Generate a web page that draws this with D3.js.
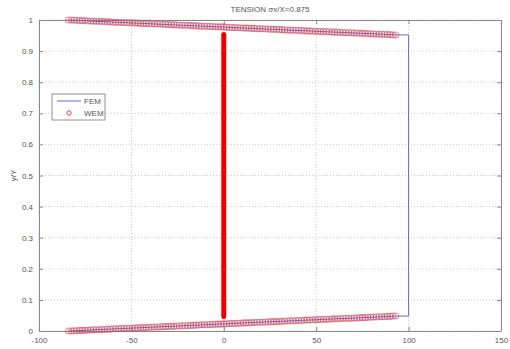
<!DOCTYPE html>
<html>
<head>
<meta charset="utf-8">
<script src="https://cdn.jsdelivr.net/npm/d3@7"></script>
<style>
  body { margin: 0; background: #fff; }
  text { font-family: "Liberation Sans", Arial, sans-serif; fill: #555; }
</style>
</head>
<body>
<div id="chart"></div>
<script>
// x ticks and y ticks
var xTicks = [-100, -50, 0, 50, 100, 150];
var yTicks = [0, 0.1, 0.2, 0.3, 0.4, 0.5, 0.6, 0.7, 0.8, 0.9, 1];

// FEM outline (blue line)
var femX = [-84, 0, 94, 100, 100, 94, 0, -84];
var femY = [1, 0.977, 0.952, 0.952, 0.048, 0.048, 0.023, 0];

// WEM markers (red circles), upper and lower faces
var wemX = [-84, -82.5, -81, -79.5, -78, -76.5, -75, -73.5, -72, -70.5,
            -69, -67.5, -66, -64.5, -63, -61.5, -60, -58.5, -57, -55.5,
            -54, -52.5, -51, -49.5, -48, -46.5, -45, -43.5, -42, -40.5,
            -39, -37.5, -36, -34.5, -33, -31.5, -30, -28.5, -27, -25.5,
            -24, -22.5, -21, -19.5, -18, -16.5, -15, -13.5, -12, -10.5,
            -9, -7.5, -6, -4.5, -3, -1.5, 0, 1.5, 3, 4.5,
            6, 7.5, 9, 10.5, 12, 13.5, 15, 16.5, 18, 19.5,
            21, 22.5, 24, 25.5, 27, 28.5, 30, 31.5, 33, 34.5,
            36, 37.5, 39, 40.5, 42, 43.5, 45, 46.5, 48, 49.5,
            51, 52.5, 54, 55.5, 57, 58.5, 60, 61.5, 63, 64.5,
            66, 67.5, 69, 70.5, 72, 73.5, 75, 76.5, 78, 79.5,
            81, 82.5, 84, 85.5, 87, 88.5, 90, 91.5, 93];
var wemTop = [1.000, 1.000, 0.999, 0.999, 0.998, 0.998, 0.998, 0.997, 0.997, 0.996,
              0.996, 0.996, 0.995, 0.995, 0.994, 0.994, 0.993, 0.993, 0.993, 0.992,
              0.992, 0.991, 0.991, 0.991, 0.990, 0.990, 0.989, 0.989, 0.989, 0.988,
              0.988, 0.987, 0.987, 0.987, 0.986, 0.986, 0.985, 0.985, 0.985, 0.984,
              0.984, 0.983, 0.983, 0.983, 0.982, 0.982, 0.981, 0.981, 0.980, 0.980,
              0.980, 0.979, 0.979, 0.978, 0.978, 0.978, 0.977, 0.977, 0.976, 0.976,
              0.976, 0.975, 0.975, 0.974, 0.974, 0.974, 0.973, 0.973, 0.972, 0.972,
              0.972, 0.971, 0.971, 0.970, 0.970, 0.970, 0.969, 0.969, 0.968, 0.968,
              0.967, 0.967, 0.967, 0.966, 0.966, 0.965, 0.965, 0.965, 0.964, 0.964,
              0.963, 0.963, 0.963, 0.962, 0.962, 0.961, 0.961, 0.961, 0.960, 0.960,
              0.959, 0.959, 0.959, 0.958, 0.958, 0.957, 0.957, 0.957, 0.956, 0.956,
              0.955, 0.955, 0.954, 0.954, 0.954, 0.953, 0.953, 0.952, 0.952];
var wemBottom = [0.000, 0.000, 0.001, 0.001, 0.002, 0.002, 0.002, 0.003, 0.003, 0.004,
                 0.004, 0.004, 0.005, 0.005, 0.006, 0.006, 0.007, 0.007, 0.007, 0.008,
                 0.008, 0.009, 0.009, 0.009, 0.010, 0.010, 0.011, 0.011, 0.011, 0.012,
                 0.012, 0.013, 0.013, 0.013, 0.014, 0.014, 0.015, 0.015, 0.015, 0.016,
                 0.016, 0.017, 0.017, 0.017, 0.018, 0.018, 0.019, 0.019, 0.020, 0.020,
                 0.020, 0.021, 0.021, 0.022, 0.022, 0.022, 0.023, 0.023, 0.024, 0.024,
                 0.024, 0.025, 0.025, 0.026, 0.026, 0.026, 0.027, 0.027, 0.028, 0.028,
                 0.028, 0.029, 0.029, 0.030, 0.030, 0.030, 0.031, 0.031, 0.032, 0.032,
                 0.033, 0.033, 0.033, 0.034, 0.034, 0.035, 0.035, 0.035, 0.036, 0.036,
                 0.037, 0.037, 0.037, 0.038, 0.038, 0.039, 0.039, 0.039, 0.040, 0.040,
                 0.041, 0.041, 0.041, 0.042, 0.042, 0.043, 0.043, 0.043, 0.044, 0.044,
                 0.045, 0.045, 0.046, 0.046, 0.046, 0.047, 0.047, 0.048, 0.048];

// crack at x = 0 (thick red bar)
var crackX = [0, 0];
var crackY = [0.047, 0.953];

var width = 510, height = 349;
var margin = {top: 20, right: 9, bottom: 18, left: 39};
var w = width - margin.left - margin.right;
var h = height - margin.top - margin.bottom;

var svg = d3.select("#chart").append("svg")
    .attr("width", width)
    .attr("height", height);

var g = svg.append("g")
    .attr("transform", "translate(" + margin.left + "," + margin.top + ")");

var x = d3.scaleLinear().domain([-100, 150]).range([0, w]);
var y = d3.scaleLinear().domain([0, 1]).range([h, 0]);

// dotted grid
g.selectAll(".gx").data(xTicks).enter().append("line")
    .attr("x1", function(d){ return x(d); }).attr("x2", function(d){ return x(d); })
    .attr("y1", 0).attr("y2", h)
    .attr("stroke", "#bbb").attr("stroke-width", 0.8).attr("stroke-dasharray", "1,2");
g.selectAll(".gy").data(yTicks).enter().append("line")
    .attr("x1", 0).attr("x2", w)
    .attr("y1", function(d){ return y(d); }).attr("y2", function(d){ return y(d); })
    .attr("stroke", "#bbb").attr("stroke-width", 0.8).attr("stroke-dasharray", "1,2");

// axes, ticks inside (matlab style)
var xAxis = d3.axisBottom(x).tickValues(xTicks).tickSizeInner(-4).tickSizeOuter(0).tickPadding(6)
    .tickFormat(function(d){ return String(d); });
var yAxis = d3.axisLeft(y).tickValues(yTicks).tickSizeInner(-4).tickSizeOuter(0).tickPadding(6)
    .tickFormat(function(d){ return d === 0 || d === 1 ? String(d) : d3.format(".1f")(d); });

var gx = g.append("g").attr("transform", "translate(0," + h + ")").call(xAxis);
var gy = g.append("g").call(yAxis);
var gxt = g.append("g").call(d3.axisTop(x).tickValues(xTicks).tickSizeInner(-4).tickSizeOuter(0).tickFormat(""));
var gyr = g.append("g").attr("transform", "translate(" + w + ",0)")
    .call(d3.axisRight(y).tickValues(yTicks).tickSizeInner(-4).tickSizeOuter(0).tickFormat(""));

[gx, gy, gxt, gyr].forEach(function(a){
    a.selectAll("path").attr("stroke", "#888");
    a.selectAll("line").attr("stroke", "#888");
    a.selectAll("text").style("font-size", "8px").attr("fill", "#555");
});

// FEM line
var line = d3.line()
    .x(function(d){ return x(d[0]); })
    .y(function(d){ return y(d[1]); });

g.append("path")
    .datum(d3.zip(femX, femY))
    .attr("d", line)
    .attr("fill", "none")
    .attr("stroke", "#6666dd")
    .attr("stroke-width", 1);

// WEM circles
var wemPts = d3.zip(wemX, wemTop).concat(d3.zip(wemX, wemBottom));
g.selectAll(".wem").data(wemPts).enter().append("circle")
    .attr("cx", function(d){ return x(d[0]); })
    .attr("cy", function(d){ return y(d[1]); })
    .attr("r", 3)
    .attr("fill", "none")
    .attr("stroke", "#cc4455")
    .attr("stroke-opacity", 0.55)
    .attr("stroke-width", 1.1);

// crack
g.append("path")
    .datum(d3.zip(crackX, crackY))
    .attr("d", line)
    .attr("stroke", "#ee0000")
    .attr("stroke-width", 5)
    .attr("stroke-linecap", "round");

// title and y label
svg.append("text")
    .attr("x", margin.left + w / 2).attr("y", 12)
    .attr("text-anchor", "middle")
    .style("font-size", "8px")
    .text("TENSION \u03C3x/X=0.875");

svg.append("text")
    .attr("transform", "translate(16," + (margin.top + h / 2) + ") rotate(-90)")
    .attr("text-anchor", "middle")
    .style("font-size", "8px")
    .text("y/Y");

// legend
var leg = svg.append("g").attr("transform", "translate(52,94)");
leg.append("rect").attr("width", 53).attr("height", 26)
    .attr("fill", "#fff").attr("stroke", "#777").attr("stroke-width", 0.8);
leg.append("line").attr("x1", 5).attr("x2", 29).attr("y1", 7).attr("y2", 7)
    .attr("stroke", "#6666dd").attr("stroke-width", 1);
leg.append("text").attr("x", 32).attr("y", 10).style("font-size", "8px").text("FEM");
leg.append("circle").attr("cx", 17).attr("cy", 19).attr("r", 2.2)
    .attr("fill", "none").attr("stroke", "#d0485a").attr("stroke-width", 1);
leg.append("text").attr("x", 32).attr("y", 22).style("font-size", "8px").text("WEM");
</script>
</body>
</html>
